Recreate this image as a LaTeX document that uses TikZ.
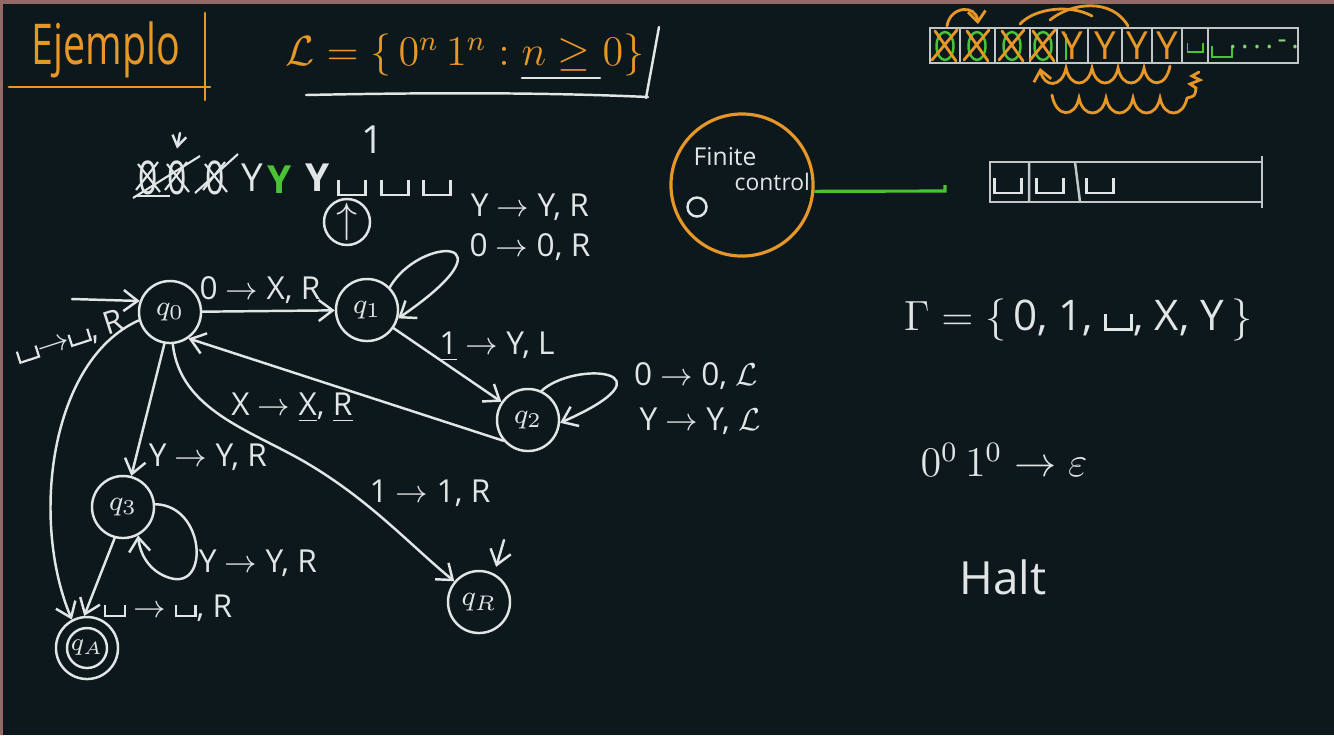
\documentclass[tikz,border=0pt]{standalone}
\usepackage{fontspec}
\setmainfont{Open Sans}
\usetikzlibrary{arrows.meta,positioning}

\definecolor{board}{RGB}{13,24,28}
\definecolor{chalk}{RGB}{226,229,229}
\definecolor{amber}{RGB}{231,150,40}
\definecolor{lime}{RGB}{72,196,52}
\definecolor{rim}{RGB}{150,105,105}

% blank tape symbol
\newcommand{\blanksym}{\hbox{\vrule height .75ex depth 0pt width .07em\vrule height .07em depth 0pt width .55em\vrule height .75ex depth 0pt width .07em}}

\tikzset{
  chalkline/.style={draw=chalk,line width=0.7pt,line cap=round},
  trans/.style={chalkline,-{Straight Barb[length=4pt,width=6pt]}},
  tmstate/.style={circle,chalkline,minimum size=0.62cm,inner sep=0pt,text=chalk,font=\fontsize{8.5}{10}\selectfont},
  lbl/.style={text=chalk,inner sep=1pt,font=\fontsize{9}{11}\selectfont},
  strike/.style={draw=chalk,line width=0.6pt},
  tapeline/.style={draw=chalk!85!board,line width=0.7pt},
  orange/.style={draw=amber,line width=0.8pt,line cap=round},
}

\begin{document}
\begin{tikzpicture}[x=0.01cm,y=-0.01cm]

% Board
\fill[board] (0,0) rectangle (1334,735);
\useasboundingbox (0,0) rectangle (1334,735);
\fill[rim] (0,0) rectangle (1334,4);
\fill[rim] (0,0) rectangle (3,735);

%--------------------------------------------------
% Title
%--------------------------------------------------
\node[text=amber,font=\fontsize{16}{18}\selectfont] (title) at (106,50)
{\scalebox{0.7}[1]{Ejemplo}};
\draw[orange] (9,87)--(210,87);
\draw[orange] (205,13)--(205,100);

% Language
\node[text=amber,font=\fontsize{12}{14}\selectfont] (lang) at (465,55)
{$\mathcal{L}=\{\,0^n\,1^n : n\geq 0\}$};
\draw[chalkline] (522,78)--(600,78);
\draw[chalkline] (306,95) .. controls (450,92) and (560,93) .. (648,97);
\draw[chalkline] (659,27)--(646,98);

%--------------------------------------------------
% Tape (top right)
%--------------------------------------------------
\draw[tapeline] (930,28) rectangle (1298,63);
\foreach \x in {960,995,1030,1057,1088,1122,1152,1182,1208}
  \draw[tapeline] (\x,28)--(\x,63);
\foreach \x in {945,977,1012,1043}{
  \draw[lime,line width=0.7pt] (\x,46) ellipse (0.085cm and 0.14cm);
  \draw[orange] ({\x-13},60)--({\x+12},30) ({\x-10},31)--({\x+11},61);
}
\draw[lime,line width=0.7pt] (1066,34)--(1066,60);
\foreach \x in {1072,1105,1137,1167}
  \node[text=amber,font=\fontsize{11}{13}\selectfont] (y\x) at (\x,46) {Y};
\node[text=lime,font=\fontsize{7}{8}\selectfont] (b9) at (1195,48)
{\blanksym};
\node[text=lime,font=\fontsize{9}{10}\selectfont] (b10) at (1222,52)
{\blanksym};
\node[text=lime!60!chalk,font=\fontsize{8}{9}\selectfont] (dots) at (1264,44)
{.\,.\,.\,.\,-\,.};

% moves
\draw[orange,-{Straight Barb[length=3pt,width=5pt]}] (947,26) .. controls (950,6) and (976,4) .. (978,24);
\draw[orange] (1020,24) .. controls (1035,8) and (1070,4) .. (1092,16);
\draw[orange] (1050,20) .. controls (1072,2) and (1112,-2) .. (1128,26);
\draw[orange,-{Straight Barb[length=3pt,width=5pt]}] (1170,66)
  \foreach \i in {0,...,4}{ .. controls ({1166-26*\i},88) and ({1148-26*\i},88) .. ({1144-26*\i},68) };
\draw[orange] (1052,95)
  \foreach \i in {0,...,4}{ .. controls ({1056+27*\i},118) and ({1075+27*\i},118) .. ({1079+27*\i},98) };
\draw[orange] (1187,98) .. controls (1195,96) .. (1196,88) -- (1190,84) -- (1200,80) -- (1192,76) -- (1199,72);

%--------------------------------------------------
% Scratch tape
%--------------------------------------------------
\foreach \x/\n in {148/a,177/b,215/c}{
  \node[text=chalk,font=\fontsize{12}{14}\selectfont] (z\n) at (\x,178) {\scalebox{0.8}[1.1]{0}};
  \draw[strike] ({\x-12},190)--({\x+10},162) ({\x-10},164)--({\x+12},192);
}
\draw[strike] (133,198)--(200,156);
\draw[strike] (195,193)--(238,154);
\draw[strike] (136,196)--(170,196);
\node[text=chalk,font=\fontsize{11}{13}\selectfont] (ya) at (252,178)
{Y};
\node[text=lime,font=\fontsize{11}{13}\selectfont\bfseries] (yb) at (280,180)
{Y};
\node[text=chalk,font=\fontsize{11}{13}\selectfont\bfseries] (yc) at (318,178)
{Y};
\foreach \x in {352,395,437}
  \node[text=chalk,font=\fontsize{12}{14}\selectfont] (s\x) at (\x,188) {\blanksym};
\node[text=chalk,font=\fontsize{11}{13}\selectfont] (one) at (373,140)
{1};
\coordinate (ptr) at (180,133);
\draw[chalkline,-{Straight Barb[length=3pt,width=4pt]}] (ptr) -- (zb.north);
\node[circle,chalkline,minimum size=0.46cm,inner sep=0pt,text=chalk,font=\fontsize{13}{14}\selectfont] (head) at (347,222)
{$\uparrow$};

%--------------------------------------------------
% Finite control
%--------------------------------------------------
\node[circle,draw=amber,line width=0.9pt,minimum size=1.42cm] (fc) at (742,185) {};
\node[text=chalk,font=\fontsize{7}{8}\selectfont,anchor=west,inner sep=0pt] (fin) at (693,157)
{Finite};
\node[text=chalk,font=\fontsize{6.5}{8}\selectfont,anchor=west,inner sep=0pt] (ctl) at (734,182)
{control};
\node[circle,chalkline,minimum size=0.19cm,inner sep=0pt] (fco) at (697,207) {};
\coordinate (hd) at (945,191);
\draw[lime,line width=0.9pt] (fc.-5) -- (hd) -- ++(0,-6);

% Tape (right)
\draw[tapeline] (990,162) rectangle (1262,202);
\draw[tapeline] (1262,156)--(1262,208);
\draw[tapeline] (1029,162)--(1029,202) (1075,162)--(1080,202);
\foreach \x in {1008,1050,1100}
  \node[text=chalk,font=\fontsize{12}{14}\selectfont] (t\x) at (\x,186) {\blanksym};

%--------------------------------------------------
% States
%--------------------------------------------------
\node[tmstate] (q0) at (170,312) {$q_0$};
\node[tmstate] (q1) at (367,310) {$q_1$};
\node[tmstate] (q2) at (528,420) {$q_2$};
\node[tmstate] (q3) at (123,507) {$q_3$};
\node[tmstate,font=\fontsize{7.5}{9}\selectfont] (qA) at (87,648) {$q_A$};
\node[tmstate] (qR) at (479,602) {$q_R$};
\draw[chalkline] (qA) circle (0.2cm);

%--------------------------------------------------
% Transitions
%--------------------------------------------------
\coordinate (init) at (72,299);
\draw[trans] (init) -- (q0.160);
\draw[trans] (q0) -- (q1);
\draw[trans] (q1.45) .. controls (420,235) and (520,235) .. (q1.-15);
\draw[trans] (q1) -- (q2);
\draw[trans] (q2.65) .. controls (575,360) and (680,370) .. (q2.-5);
\draw[trans] (q2.-140) -- (q0.-55);
\draw[trans] (q0.-100) -- (q3.75);
\draw[trans] (q0.-85) .. controls (180,410) and (250,430) .. (305,462)
  .. controls (370,500) and (410,545) .. (qR.140);
\draw[trans] (q0.-165) .. controls (50,360) and (30,520) .. (qA.118);
\draw[trans] (q3.5) .. controls (205,505) and (210,590) .. (170,578)
  .. controls (150,572) and (140,555) .. (q3.-62);
\draw[trans] (q3.-105) -- (qA.95);
\coordinate (qRtick) at (504,540);
\draw[trans,shorten >=2pt] (qRtick) -- (qR.62);

% Labels
\node[lbl] (l01) at (260,290)
{0 $\to$ X, R};
\node[lbl] (l11a) at (530,207)
{Y $\to$ Y, R};
\node[lbl] (l11b) at (530,247)
{0 $\to$ 0, R};
\node[lbl] (l12) at (497,347)
{\underline{1} $\to$ Y, L};
\node[lbl] (l22a) at (696,376)
{0 $\to$ 0, $\mathcal{L}$};
\node[lbl] (l22b) at (700,421)
{Y $\to$ Y, $\mathcal{L}$};
\node[lbl] (l20) at (292,408)
{X $\to$ \underline{X}, \underline{R}};
\node[lbl] (l03) at (208,457)
{Y $\to$ Y, R};
\node[lbl] (l0R) at (430,493)
{1 $\to$ 1, R};
\node[lbl] (l33) at (258,563)
{Y $\to$ Y, R};
\node[lbl] (l3A) at (168,608)
{\blanksym\ $\to$ \blanksym, R};
\node[lbl,rotate=18] (l0A) at (70,338)
{\blanksym$\to$\blanksym, R};

%--------------------------------------------------
% Notes
%--------------------------------------------------
\node[text=chalk,font=\fontsize{12}{14}\selectfont] (gam) at (1078,320)
{$\Gamma = \big\{$\,0, 1, \blanksym, X, Y\,$\big\}$};
\node[text=chalk,font=\fontsize{12}{14}\selectfont] (eps) at (1004,460)
{$0^0\,1^0 \to \varepsilon$};
\node[text=chalk,font=\fontsize{13}{15}\selectfont] (halt) at (1003,577)
{Halt};

\end{tikzpicture}
\end{document}
